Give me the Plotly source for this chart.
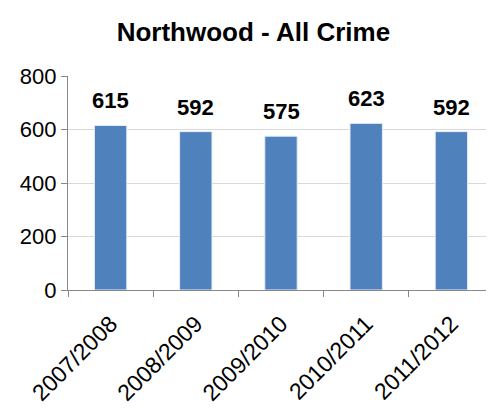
import plotly.graph_objects as go

categories = ["2007/2008", "2008/2009", "2009/2010", "2010/2011", "2011/2012"]
values = [615, 592, 575, 623, 592]

FONT = "Liberation Sans, Arial"

fig = go.Figure(go.Bar(
    x=categories, y=values,
    marker=dict(color="#4F81BD", line=dict(color="#E6ECF5", width=1)),
    width=0.38,
))

for c, v in zip(categories, values):
    fig.add_annotation(x=c, y=v, text=f"<b>{v}</b>", showarrow=False,
                       yanchor="bottom", yshift=10,
                       font=dict(family=FONT, size=22, color="black"))

fig.update_layout(
    width=486, height=400,
    margin=dict(l=60, r=0, t=68, b=118),
    paper_bgcolor="white", plot_bgcolor="white",
    showlegend=False,
    title=dict(text="<b>Northwood - All Crime</b>", x=0.505, xanchor="center", y=0.94, yanchor="middle",
               font=dict(family=FONT, size=26, color="black")),
    font=dict(family=FONT, size=22, color="black"),
)
fig.update_yaxes(range=[0, 800], tickvals=[0, 200, 400, 600, 800], showgrid=True,
                 gridcolor="#D9D9D9", gridwidth=1.3, showline=True, linecolor="#888888", linewidth=1.3,
                 ticks="outside", ticklen=6, tickcolor="#888888", zeroline=False,
                 tickfont=dict(size=22), automargin=False)
fig.update_xaxes(showline=True, linecolor="#888888", linewidth=1.3, ticks="outside",
                 tickson="boundaries", ticklen=6, tickcolor="#888888", tickangle=-45,
                 ticklabelstandoff=10,
                 tickfont=dict(size=23), automargin=False)

fig.write_html("out.html")
